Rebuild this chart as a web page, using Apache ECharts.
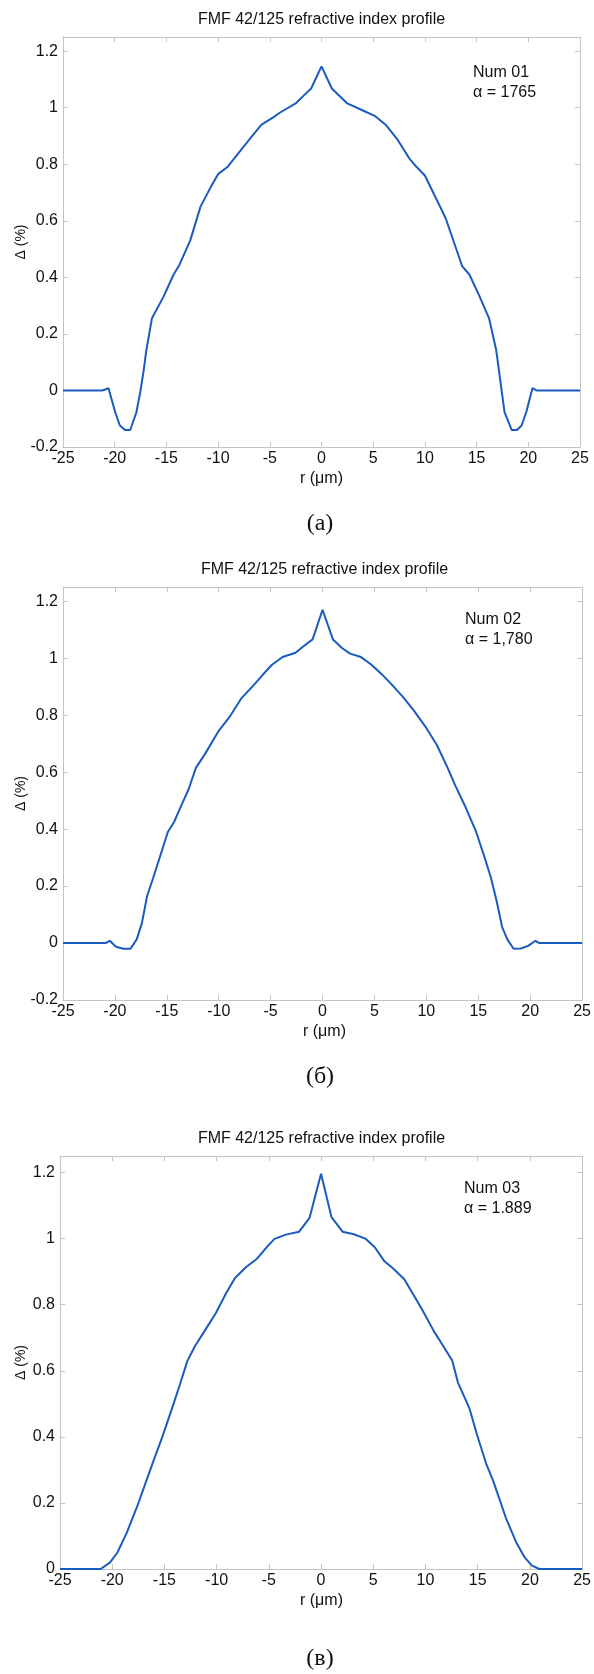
<!DOCTYPE html>
<html>
<head>
<meta charset="utf-8">
<script src="https://cdn.jsdelivr.net/npm/echarts@6/dist/echarts.min.js"></script>
<style>
  html, body { margin: 0; padding: 0; background: #fff; }
  #chart { width: 594px; height: 1674px; }
</style>
</head>
<body>
<div id="chart"></div>
<script>
// profile Num 01
const rA = [-25, -21.2, -20.6, -19.95, -19.5, -19.0, -18.5, -17.9, -17.5, -17.2,
  -16.95, -16.4, -15.3, -14.3, -13.8, -12.7, -11.7, -10.7, -10.0, -9.1,
  -7.8, -6.7, -5.8, -4.7, -4.0, -2.5, -1.6, -1.0, 0, 1.0,
  2.5, 4.0, 5.2, 6.2, 7.3, 8.5, 9.2, 10.0, 10.8, 12.0,
  13.6, 14.3, 15.2, 16.2, 16.9, 17.7, 18.4, 18.9, 19.35, 19.8,
  20.4, 20.8, 25]
const dA = [0, 0, 0.008, -0.077, -0.124, -0.14, -0.14, -0.077, 0, 0.07,
  0.14, 0.255, 0.33, 0.41, 0.44, 0.53, 0.65, 0.72, 0.765, 0.79,
  0.85, 0.90, 0.94, 0.965, 0.983, 1.015, 1.047, 1.068, 1.146, 1.068,
  1.015, 0.99, 0.97, 0.94, 0.89, 0.82, 0.79, 0.76, 0.70, 0.61,
  0.44, 0.41, 0.34, 0.256, 0.142, -0.077, -0.14, -0.14, -0.124, -0.077,
  0.008, 0, 0]

// profile Num 02
const rB = [-25, -20.9, -20.5, -19.9, -19.2, -18.5, -17.9, -17.4, -16.9, -16.3,
  -15.6, -14.9, -14.3, -13.6, -12.9, -12.2, -11.3, -10.0, -8.9, -7.8,
  -6.7, -5.8, -4.9, -3.85, -2.6, -1.9, -0.96, 0, 1.0, 1.9,
  2.65, 3.7, 4.65, 5.7, 6.6, 7.7, 8.8, 9.9, 11.0, 12.05,
  12.8, 13.7, 14.8, 15.7, 16.2, 16.75, 17.3, 17.8, 18.4, 19.1,
  19.8, 20.5, 20.9, 25]
const dB = [0, 0, 0.008, -0.013, -0.02, -0.02, 0.013, 0.07, 0.165, 0.23,
  0.31, 0.39, 0.425, 0.483, 0.54, 0.615, 0.665, 0.745, 0.797, 0.86,
  0.903, 0.94, 0.976, 1.004, 1.019, 1.04, 1.066, 1.17, 1.066, 1.035,
  1.016, 1.004, 0.979, 0.944, 0.91, 0.866, 0.816, 0.76, 0.696, 0.615,
  0.552, 0.483, 0.39, 0.29, 0.232, 0.15, 0.056, 0.013, -0.02, -0.019,
  -0.01, 0.008, 0, 0]

// profile Num 03
const rC = [-25, -21.1, -20.2, -19.5, -18.6, -17.6, -16.7, -15.9, -15.2, -14.8,
  -14.2, -13.5, -12.8, -12.07, -11.16, -10.07, -9.17, -8.26, -7.17, -6.1,
  -5.2, -4.46, -3.37, -2.1, -1.1, 0, 1.0, 2.06, 3.15, 4.24,
  5.15, 6.05, 6.96, 7.97, 8.95, 9.86, 10.8, 11.7, 12.57, 13.1,
  14.2, 14.9, 15.8, 16.5, 17.7, 18.7, 19.5, 20.2, 20.9, 25]
const dC = [0, 0, 0.02, 0.05, 0.11, 0.19, 0.27, 0.34, 0.40, 0.437,
  0.493, 0.56, 0.63, 0.675, 0.72, 0.775, 0.83, 0.88, 0.914, 0.94,
  0.974, 0.999, 1.012, 1.021, 1.063, 1.196, 1.065, 1.021, 1.013, 1.0,
  0.974, 0.932, 0.908, 0.877, 0.825, 0.775, 0.72, 0.675, 0.63, 0.565,
  0.487, 0.41, 0.32, 0.265, 0.155, 0.08, 0.035, 0.01, 0, 0]

const titles = ['FMF 42/125 refractive index profile', 'FMF 42/125 refractive index profile', 'FMF 42/125 refractive index profile']
const numLabels = ['Num 01', 'Num 02', 'Num 03']
const alphaLabels = ['\u03b1 = 1765', '\u03b1 = 1,780', '\u03b1 = 1.889']
const captions = ['(a)', '(\u0431)', '(\u0432)']
const yMins = [-0.2, -0.2, 0]
const yMax = 1.25

const profiles = [[rA, dA], [rB, dB], [rC, dC]]

const grids = [
  { left: 63, top: 37, width: 517, height: 410 },
  { left: 63, top: 587, width: 523, height: 413 },
  { left: 60, top: 1156, width: 523, height: 413 },
]
const annPos = [[473, 73], [465, 620], [464, 1189]]
const capY = [524, 1077, 1659]

const FONT = "'Liberation Sans', Arial, sans-serif"
const AXIS_COLOR = '#c4c4c4'
const LINE_COLOR = '#1a5bbf'

const chart = echarts.init(document.getElementById('chart'))

const xAxes = []
const yAxes = []
const series = []
const graphic = []

grids.forEach((g, i) => {
  const line = { show: true, onZero: false, lineStyle: { color: AXIS_COLOR, width: 1 } }
  const tick = { show: true, inside: true, length: 5, lineStyle: { color: AXIS_COLOR } }
  xAxes.push({
    gridIndex: i, type: 'value', position: 'bottom',
    min: -25, max: 25, interval: 5,
    axisLine: line, axisTick: tick, splitLine: { show: false },
    axisLabel: { color: '#111', fontSize: 16, fontFamily: FONT, margin: 4 },
  })
  xAxes.push({
    gridIndex: i, type: 'value', position: 'top',
    min: -25, max: 25, interval: 5,
    axisLine: line, axisTick: tick, splitLine: { show: false },
    axisLabel: { show: false },
  })
  const yLab = {
    color: '#111', fontSize: 16, fontFamily: FONT, margin: 5,
    showMaxLabel: false,
    formatter: (v) => (Math.abs(v * 5 - Math.round(v * 5)) < 1e-6 ? String(Math.round(v * 10) / 10) : ''),
  }
  yAxes.push({
    gridIndex: i, type: 'value', position: 'left',
    min: yMins[i], max: yMax, interval: 0.2,
    axisLine: line, axisTick: tick, splitLine: { show: false },
    axisLabel: yLab,
  })
  yAxes.push({
    gridIndex: i, type: 'value', position: 'right',
    min: yMins[i], max: yMax, interval: 0.2,
    axisLine: line, axisTick: tick, splitLine: { show: false },
    axisLabel: { show: false },
  })

  const [r, d] = profiles[i]
  series.push({
    type: 'line',
    xAxisIndex: 2 * i,
    yAxisIndex: 2 * i,
    data: r.map((x, k) => [x, d[k]]),
    showSymbol: false,
    smooth: false,
    lineStyle: { color: LINE_COLOR, width: 2 },
    silent: true,
    animation: false,
  })

  const cx = g.left + g.width / 2
  const cy = g.top + g.height / 2
  const bottom = g.top + g.height
  const txt = (x, y, text, extra) => ({
    type: 'text', x, y, silent: true,
    style: Object.assign({ text, fill: '#111', font: '16px ' + FONT, textAlign: 'center', textVerticalAlign: 'middle' }, extra || {}),
  })
  graphic.push(txt(cx, g.top - 17, titles[i], { font: '16px ' + FONT }))
  graphic.push(txt(cx, bottom + 32, 'r (\u03bcm)'))
  graphic.push(Object.assign(txt(21, cy, '\u0394 (%)', { font: '14px ' + FONT }), { rotation: Math.PI / 2 }))
  graphic.push(txt(annPos[i][0], annPos[i][1], numLabels[i], { textAlign: 'left' }))
  graphic.push(txt(annPos[i][0], annPos[i][1] + 20, alphaLabels[i], { textAlign: 'left' }))
  graphic.push(txt(320, capY[i], captions[i], { font: '24px "Liberation Serif", "Times New Roman", serif' }))
})

chart.setOption({
  backgroundColor: '#fff',
  animation: false,
  grid: grids,
  xAxis: xAxes,
  yAxis: yAxes,
  series,
  graphic,
})
</script>
</body>
</html>
